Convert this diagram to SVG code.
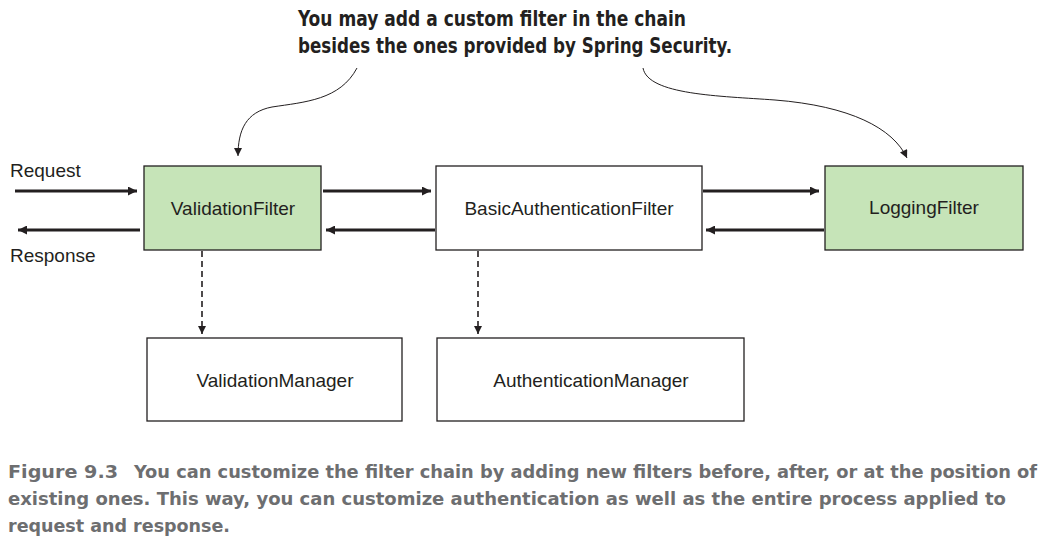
<svg xmlns="http://www.w3.org/2000/svg" width="1042" height="544" viewBox="0 0 1042 544">
<style>
.box{stroke:#231f20;stroke-width:1.3}
.g{fill:#c6e4b8}
.w{fill:#ffffff}
.lbl{font-family:"Liberation Sans",Arial,sans-serif;font-size:19px;fill:#231f20}
.c{text-anchor:middle}
.flow{stroke:#231f20;stroke-width:3;fill:none}
.dash{stroke:#231f20;stroke-width:1.6;stroke-dasharray:6,4;fill:none}
.curve{stroke:#231f20;stroke-width:1;fill:none}
.note{font-family:"DejaVu Sans Condensed","DejaVu Sans",sans-serif;font-weight:bold;font-size:21px;fill:#231f20}
.cap{font-family:"DejaVu Sans Condensed","DejaVu Sans",sans-serif;font-weight:bold;font-size:18px;fill:#6d6e70}
</style>
<defs>
<marker id="ah" viewBox="0 0 10 10" refX="10" refY="5" markerWidth="10" markerHeight="8" markerUnits="userSpaceOnUse" orient="auto">
<path d="M0,0 L10,5 L0,10 Z" fill="#231f20"/>
</marker>
<marker id="ah2" viewBox="0 0 10 10" refX="10" refY="5" markerWidth="12" markerHeight="9" markerUnits="userSpaceOnUse" orient="auto">
<path d="M0,0 L10,5 L0,10 Z" fill="#231f20"/>
</marker>
</defs>
<rect width="1042" height="544" fill="#ffffff"/>
<g id="connectors">
<line class="flow" x1="15" y1="191" x2="137" y2="191" marker-end="url(#ah2)"/>
<line class="flow" x1="140" y1="230" x2="18" y2="230" marker-end="url(#ah2)"/>
<line class="flow" x1="323" y1="191" x2="431" y2="191" marker-end="url(#ah2)"/>
<line class="flow" x1="435" y1="230" x2="326" y2="230" marker-end="url(#ah2)"/>
<line class="flow" x1="703" y1="191" x2="819" y2="191" marker-end="url(#ah2)"/>
<line class="flow" x1="824" y1="230" x2="706" y2="230" marker-end="url(#ah2)"/>
<line class="dash" x1="202" y1="251" x2="202" y2="334" marker-end="url(#ah)"/>
<line class="dash" x1="478" y1="251" x2="478" y2="334" marker-end="url(#ah)"/>
<path class="curve" d="M357,68 C340,100 305,102 272,107 C246,112 238,130 238,156" marker-end="url(#ah)"/>
<path class="curve" d="M643,68 C648,95 720,96 775,100 C850,106 893,128 907,158" marker-end="url(#ah)"/>
</g>
<g id="request-label"><text class="lbl" x="10" y="177">Request</text></g>
<g id="response-label"><text class="lbl" x="10" y="262">Response</text></g>
<g id="validation-filter">
<rect class="box g" x="144" y="166" width="177" height="84"/>
<text class="lbl c" x="233" y="215">ValidationFilter</text>
</g>
<g id="basic-auth-filter">
<rect class="box w" x="436" y="166" width="266" height="84"/>
<text class="lbl c" x="569" y="215">BasicAuthenticationFilter</text>
</g>
<g id="logging-filter">
<rect class="box g" x="825" y="166" width="198" height="84"/>
<text class="lbl c" x="924" y="214">LoggingFilter</text>
</g>
<g id="validation-manager">
<rect class="box w" x="147" y="338" width="255" height="83"/>
<text class="lbl c" x="275" y="387">ValidationManager</text>
</g>
<g id="authentication-manager">
<rect class="box w" x="437" y="338" width="307" height="83"/>
<text class="lbl c" x="591" y="387">AuthenticationManager</text>
</g>
<g id="note">
<text class="note" x="298" y="26" textLength="388" lengthAdjust="spacingAndGlyphs">You may add a custom filter in the chain</text>
<text class="note" x="298" y="53" textLength="434" lengthAdjust="spacingAndGlyphs">besides the ones provided by Spring Security.</text>
</g>
<g id="caption">
<text class="cap" x="8" y="478" textLength="110" lengthAdjust="spacingAndGlyphs">Figure 9.3</text>
<text class="cap" x="134" y="478" textLength="903" lengthAdjust="spacingAndGlyphs">You can customize the filter chain by adding new filters before, after, or at the position of</text>
<text class="cap" x="8" y="505" textLength="998" lengthAdjust="spacingAndGlyphs">existing ones. This way, you can customize authentication as well as the entire process applied to</text>
<text class="cap" x="8" y="532" textLength="222" lengthAdjust="spacingAndGlyphs">request and response.</text>
</g>
</svg>
